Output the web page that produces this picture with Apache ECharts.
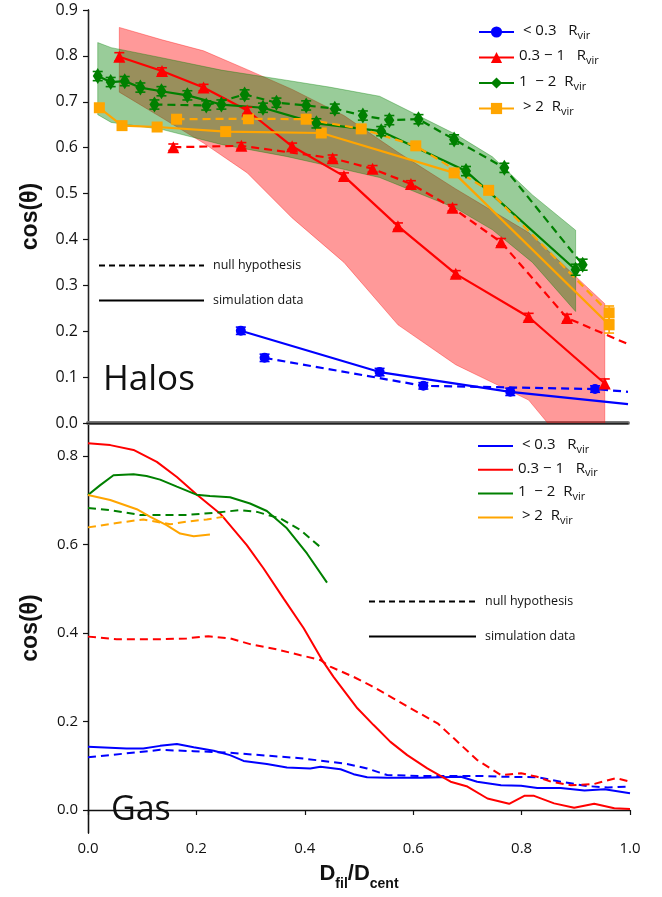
<!DOCTYPE html>
<html>
<head>
<meta charset="utf-8">
<script src="https://cdn.jsdelivr.net/npm/echarts@6/dist/echarts.min.js"></script>
<style>
  html, body { margin: 0; padding: 0; background: #fff; }
  #chart { width: 662px; height: 897px; }
</style>
</head>
<body>
<div id="chart"></div>
<script>
// ---------- Halos panel: mean cos(theta) with error bars ----------
const haloBlueX = [0.283, 0.54, 0.782];
const haloBlueY = [0.201, 0.111, 0.068];
const haloBlueErr = [0.008, 0.008, 0.008];
const haloBlueTail = [1.0, 0.041];
const haloBlueNullX = [0.327, 0.621, 0.939];
const haloBlueNullY = [0.142, 0.081, 0.074];
const haloBlueNullErr = [0.008, 0.007, 0.007];
const haloBlueNullTail = [1.0, 0.068];

const haloRedX = [0.058, 0.137, 0.214, 0.295, 0.378, 0.474, 0.574, 0.681, 0.816, 0.957];
const haloRedY = [0.798, 0.767, 0.731, 0.681, 0.603, 0.538, 0.429, 0.325, 0.231, 0.086];
const haloRedErr = [0.009, 0.007, 0.007, 0.007, 0.007, 0.007, 0.007, 0.007, 0.008, 0.01];
const haloRedNullX = [0.158, 0.284, 0.453, 0.527, 0.598, 0.675, 0.765, 0.887];
const haloRedNullY = [0.601, 0.604, 0.577, 0.554, 0.521, 0.469, 0.394, 0.229];
const haloRedNullErr = [0.007, 0.007, 0.007, 0.007, 0.007, 0.007, 0.008, 0.008];
const haloRedNullTail = [1.0, 0.172];

const haloGreenX = [0.018, 0.042, 0.068, 0.097, 0.136, 0.184, 0.247, 0.324, 0.423, 0.543, 0.70, 0.903];
const haloGreenY = [0.756, 0.743, 0.745, 0.731, 0.723, 0.714, 0.694, 0.687, 0.653, 0.636, 0.549, 0.334];
const haloGreenErr = [0.01, 0.01, 0.01, 0.01, 0.01, 0.01, 0.01, 0.01, 0.01, 0.01, 0.01, 0.012];
const haloGreenNullX = [0.123, 0.219, 0.29, 0.349, 0.404, 0.457, 0.509, 0.558, 0.612, 0.678, 0.771, 0.916];
const haloGreenNullY = [0.694, 0.692, 0.716, 0.698, 0.692, 0.685, 0.670, 0.660, 0.662, 0.618, 0.556, 0.345];
const haloGreenNullErr = [0.01, 0.01, 0.01, 0.01, 0.01, 0.01, 0.01, 0.01, 0.01, 0.01, 0.01, 0.012];

const haloOrangeX = [0.021, 0.063, 0.128, 0.255, 0.432, 0.678, 0.965];
const haloOrangeY = [0.687, 0.648, 0.645, 0.635, 0.632, 0.545, 0.214];
const haloOrangeErr = [0.008, 0.007, 0.007, 0.007, 0.007, 0.008, 0.018];
const haloOrangeNullX = [0.164, 0.297, 0.404, 0.506, 0.607, 0.742, 0.965];
const haloOrangeNullY = [0.662, 0.663, 0.662, 0.641, 0.604, 0.507, 0.24];
const haloOrangeNullErr = [0.007, 0.007, 0.007, 0.007, 0.007, 0.008, 0.015];

// scatter envelopes around the 0.3-1 and 1-2 Rvir profiles
const redBandX = [0.058, 0.137, 0.214, 0.295, 0.378, 0.474, 0.574, 0.681, 0.816, 0.957];
const redBandUpper = [0.862, 0.835, 0.811, 0.77, 0.727, 0.67, 0.59, 0.51, 0.415, 0.26];
const redBandLower = [0.721, 0.665, 0.61, 0.545, 0.447, 0.35, 0.214, 0.127, 0.05, -0.15];
const greenBandX = [0.018, 0.043, 0.136, 0.247, 0.367, 0.447, 0.54, 0.681, 0.749, 0.823, 0.903];
const greenBandUpper = [0.829, 0.818, 0.796, 0.769, 0.747, 0.732, 0.712, 0.629, 0.58, 0.497, 0.42];
const greenBandLower = [0.672, 0.655, 0.64, 0.607, 0.581, 0.56, 0.535, 0.468, 0.421, 0.35, 0.243];

// ---------- Gas panel: continuous profiles ----------
const gasBlueX = [0, 0.071, 0.102, 0.133, 0.164, 0.195, 0.232, 0.262, 0.287, 0.33, 0.367, 0.41, 0.429, 0.466, 0.49, 0.515, 0.552, 0.614, 0.651, 0.688, 0.718, 0.762, 0.799, 0.829, 0.872, 0.916, 0.953, 1.0];
const gasBlueY = [0.143, 0.139, 0.139, 0.145, 0.149, 0.142, 0.134, 0.124, 0.111, 0.104, 0.096, 0.094, 0.098, 0.092, 0.081, 0.074, 0.073, 0.073, 0.074, 0.075, 0.064, 0.056, 0.055, 0.05, 0.05, 0.044, 0.047, 0.038];
const gasBlueNullX = [0, 0.071, 0.133, 0.195, 0.256, 0.33, 0.392, 0.447, 0.478, 0.515, 0.552, 0.614, 0.675, 0.725, 0.774, 0.829, 0.872, 0.922, 0.959, 1.0];
const gasBlueNullY = [0.119, 0.128, 0.136, 0.133, 0.13, 0.123, 0.117, 0.109, 0.104, 0.094, 0.079, 0.077, 0.077, 0.077, 0.075, 0.074, 0.064, 0.054, 0.051, 0.053];

const gasRedX = [0, 0.041, 0.084, 0.127, 0.164, 0.2, 0.244, 0.293, 0.324, 0.361, 0.398, 0.432, 0.453, 0.497, 0.527, 0.558, 0.589, 0.626, 0.669, 0.7, 0.737, 0.777, 0.805, 0.823, 0.86, 0.897, 0.934, 0.971, 1.0];
const gasRedY = [0.829, 0.825, 0.814, 0.787, 0.753, 0.714, 0.67, 0.599, 0.546, 0.478, 0.411, 0.339, 0.301, 0.23, 0.192, 0.154, 0.124, 0.094, 0.064, 0.053, 0.026, 0.014, 0.032, 0.032, 0.015, 0.005, 0.014, 0.004, 0.002];
const gasRedNullX = [0, 0.053, 0.133, 0.182, 0.222, 0.262, 0.299, 0.349, 0.392, 0.429, 0.447, 0.49, 0.521, 0.564, 0.595, 0.645, 0.675, 0.718, 0.762, 0.799, 0.829, 0.854, 0.891, 0.934, 0.974, 1.0];
const gasRedNullY = [0.392, 0.386, 0.386, 0.388, 0.393, 0.388, 0.375, 0.363, 0.35, 0.339, 0.324, 0.301, 0.282, 0.252, 0.23, 0.196, 0.162, 0.113, 0.079, 0.083, 0.075, 0.064, 0.056, 0.059, 0.072, 0.064];

const gasGreenX = [0, 0.022, 0.047, 0.084, 0.108, 0.133, 0.164, 0.2, 0.225, 0.262, 0.299, 0.33, 0.367, 0.404, 0.441];
const gasGreenY = [0.712, 0.734, 0.757, 0.759, 0.755, 0.747, 0.731, 0.713, 0.71, 0.707, 0.693, 0.676, 0.637, 0.58, 0.514];
const gasGreenNullX = [0, 0.041, 0.096, 0.182, 0.232, 0.281, 0.312, 0.355, 0.392, 0.432];
const gasGreenNullY = [0.683, 0.678, 0.667, 0.667, 0.672, 0.678, 0.674, 0.659, 0.633, 0.591];

const gasOrangeX = [0, 0.041, 0.09, 0.115, 0.145, 0.17, 0.195, 0.225];
const gasOrangeY = [0.712, 0.701, 0.68, 0.663, 0.644, 0.625, 0.619, 0.623];
const gasOrangeNullX = [0, 0.053, 0.102, 0.152, 0.182, 0.219, 0.25];
const gasOrangeNullY = [0.639, 0.649, 0.657, 0.646, 0.652, 0.657, 0.663];

// ---------- axes ----------
const haloTicks = [0, 0.1, 0.2, 0.3, 0.4, 0.5, 0.6, 0.7, 0.8, 0.9];
const gasTicks = [0, 0.2, 0.4, 0.6, 0.8];
const xTicks = [0, 0.2, 0.4, 0.6, 0.8, 1.0];

const rangeLabels = {
  h0: '{m| < 0.3   R}{s|vir}', h1: '{m|0.3 \u2212 1   R}{s|vir}', h2: '{m|1  \u2212 2  R}{s|vir}', h3: '{m| > 2  R}{s|vir}',
  g0: '{m| < 0.3   R}{s|vir}', g1: '{m|0.3 \u2212 1   R}{s|vir}', g2: '{m|1  \u2212 2  R}{s|vir}', g3: '{m| > 2  R}{s|vir}'
};

const BLUE = '#0000ff', RED = '#ff0000', GREEN = '#008000', ORANGE = '#ffa500';
const FONT = 'Open Sans';

function pairs(xs, ys) { return xs.map((x, i) => [x, ys[i]]); }

function haloLine(name, xs, ys, color, symbol, size, dashed, tail) {
  const data = pairs(xs, ys);
  if (tail) data.push({ value: tail, symbol: 'none' });
  return {
    type: 'line', name, xAxisIndex: 0, yAxisIndex: 0, data,
    symbol, symbolSize: size, showAllSymbol: true,
    lineStyle: { color, width: 2.2, type: dashed ? [8, 5] : 'solid' },
    itemStyle: { color }, z: 4
  };
}

function errorBars(xs, ys, errs, color) {
  return {
    type: 'custom', xAxisIndex: 0, yAxisIndex: 0, z: 5,
    data: xs.map((x, i) => [x, ys[i], errs[i]]),
    encode: { x: 0, y: 1 },
    renderItem(params, api) {
      const x = api.value(0), y = api.value(1), e = api.value(2);
      const t = api.coord([x, y + e]);
      const b = api.coord([x, y - e]);
      const w = 5;
      const st = { stroke: color, lineWidth: 1.6 };
      return {
        type: 'group', children: [
          { type: 'line', shape: { x1: t[0], y1: t[1], x2: b[0], y2: b[1] }, style: st },
          { type: 'line', shape: { x1: t[0] - w, y1: t[1], x2: t[0] + w, y2: t[1] }, style: st },
          { type: 'line', shape: { x1: b[0] - w, y1: b[1], x2: b[0] + w, y2: b[1] }, style: st }
        ]
      };
    }
  };
}

function band(xs, up, lo, fill, stroke) {
  return {
    type: 'custom', xAxisIndex: 0, yAxisIndex: 0, z: 2,
    data: [[xs[0], up[0]]],
    encode: { x: 0, y: 1 },
    renderItem(params, api) {
      const pts = [];
      for (let i = 0; i < xs.length; i++) pts.push(api.coord([xs[i], up[i]]));
      for (let i = xs.length - 1; i >= 0; i--) pts.push(api.coord([xs[i], lo[i]]));
      const cs = params.coordSys;
      return {
        type: 'polygon', shape: { points: pts },
        style: { fill, stroke, lineWidth: 1 },
        clipPath: { type: 'rect', shape: { x: cs.x, y: cs.y, width: cs.width, height: cs.height } }
      };
    }
  };
}

function gasLine(name, xs, ys, color, dashed) {
  return {
    type: 'line', name, xAxisIndex: 2, yAxisIndex: 2, data: pairs(xs, ys),
    symbol: 'none', lineStyle: { color, width: 2, type: dashed ? [8, 5] : 'solid' },
    itemStyle: { color }, z: 4
  };
}

const keyLines = [
  { type: 'line', name: 'null hypothesis', xAxisIndex: 0, yAxisIndex: 0, data: [], symbol: 'none',
    lineStyle: { color: '#000', width: 1.8, type: [6, 4] }, itemStyle: { color: '#000' } },
  { type: 'line', name: 'simulation data', xAxisIndex: 0, yAxisIndex: 0, data: [], symbol: 'none',
    lineStyle: { color: '#000', width: 1.8 }, itemStyle: { color: '#000' } }
];

const legendText = {
  fontSize: 15, fontFamily: FONT, color: '#111',
  rich: {
    m: { fontSize: 15, fontFamily: FONT, color: '#111', verticalAlign: 'top', lineHeight: 18 },
    s: { fontSize: 11, fontFamily: FONT, color: '#111', verticalAlign: 'bottom', lineHeight: 18 }
  }
};
// plain-line key entries: hide the marker that line legends draw by default
const noMarker = { color: 'rgba(0,0,0,0)', borderColor: 'rgba(0,0,0,0)', borderWidth: 0 };
const keyText = { fontSize: 12.5, fontFamily: FONT, color: '#111', padding: [0, 0, 0, 4] };

const chart = echarts.init(document.getElementById('chart'), null, { renderer: 'canvas' });

chart.setOption({
  animation: false,
  backgroundColor: '#fff',
  textStyle: { fontFamily: FONT },
  grid: [
    { left: 88, top: 10, width: 540, height: 413 },
    { left: 88, top: 423, width: 542, height: 410 }
  ],
  xAxis: [
    { type: 'value', gridIndex: 0, min: 0, max: 1, position: 'bottom',
      axisLine: { show: true, lineStyle: { color: '#777', width: 4 } },
      axisTick: { show: false }, axisLabel: { show: false }, splitLine: { show: false } },
    { type: 'value', gridIndex: 0, min: 0, max: 1, position: 'top',
      axisLine: { show: true, lineStyle: { color: '#222', width: 1.3 } },
      axisTick: { show: false }, axisLabel: { show: false }, splitLine: { show: false } },
    { type: 'value', gridIndex: 1, min: 0, max: 1, interval: 0.2, position: 'bottom',
      axisLine: { show: true, lineStyle: { color: '#111', width: 1.3 } },
      axisTick: { show: true, inside: false, length: 5, lineStyle: { color: '#111', width: 1.2 } },
      axisLabel: { show: true, margin: 8, fontSize: 15, fontFamily: FONT, color: '#111',
        customValues: xTicks, formatter: v => v.toFixed(1) },
      splitLine: { show: false },
      name: '{b|D}{s|fil}{b|/D}{s|cent}', nameLocation: 'middle', nameGap: 30,
      nameTextStyle: { rich: {
        b: { fontSize: 22, fontWeight: 'bold', fontFamily: 'Liberation Sans', color: '#111', verticalAlign: 'top', lineHeight: 28 },
        s: { fontSize: 14, fontWeight: 'bold', fontFamily: 'Liberation Sans', color: '#111', verticalAlign: 'bottom', lineHeight: 28 }
      } } },
    { type: 'value', gridIndex: 1, min: 0, max: 1, position: 'top',
      axisLine: { show: false }, axisTick: { show: false }, axisLabel: { show: false }, splitLine: { show: false } }
  ],
  yAxis: [
    { type: 'value', gridIndex: 0, min: 0, max: 0.9, interval: 0.1, position: 'left',
      axisLine: { show: true, lineStyle: { color: '#111', width: 1.3 } },
      axisTick: { show: true, inside: false, length: 5, lineStyle: { color: '#111', width: 1.2 }, customValues: haloTicks },
      axisLabel: { show: true, margin: 10, fontSize: 16, fontFamily: FONT, color: '#111',
        customValues: haloTicks, formatter: v => v.toFixed(1) },
      splitLine: { show: false },
      name: 'cos(\u03b8)', nameLocation: 'middle', nameGap: 46,
      nameTextStyle: { fontSize: 23, fontWeight: 'bold', fontFamily: 'Liberation Sans', color: '#111' } },
    { type: 'value', gridIndex: 0, min: 0, max: 0.9, position: 'right',
      axisLine: { show: true, lineStyle: { color: '#222', width: 1.3 } },
      axisTick: { show: false }, axisLabel: { show: false }, splitLine: { show: false } },
    { type: 'value', gridIndex: 1, min: -0.052, max: 0.875, position: 'left',
      axisLine: { show: true, lineStyle: { color: '#111', width: 1.3 } },
      axisTick: { show: true, inside: false, length: 5, lineStyle: { color: '#111', width: 1.2 }, customValues: gasTicks },
      axisLabel: { show: true, margin: 10, fontSize: 15, fontFamily: FONT, color: '#111',
        customValues: gasTicks, formatter: v => v.toFixed(1) },
      splitLine: { show: false },
      name: 'cos(\u03b8)', nameLocation: 'middle', nameGap: 46,
      nameTextStyle: { fontSize: 23, fontWeight: 'bold', fontFamily: 'Liberation Sans', color: '#111' } },
    { type: 'value', gridIndex: 1, min: -0.052, max: 0.875, position: 'right',
      axisLine: { show: true, lineStyle: { color: '#111', width: 1.3 } },
      axisTick: { show: false }, axisLabel: { show: false }, splitLine: { show: false } }
  ],
  legend: [
    { data: ['h0', 'h1', 'h2', 'h3'], orient: 'vertical', left: 473, top: 18,
      itemWidth: 35, itemHeight: 14, itemGap: 7.5, selectedMode: false,
      formatter: n => rangeLabels[n], textStyle: legendText },
    { data: ['null hypothesis', 'simulation data'], orient: 'vertical', left: 93, top: 254,
      itemWidth: 105, itemHeight: 14, itemGap: 22, selectedMode: false,
      itemStyle: noMarker, textStyle: keyText },
    { data: ['g0', 'g1', 'g2', 'g3'], orient: 'vertical', left: 472, top: 432,
      itemWidth: 35, itemHeight: 14, itemGap: 5.8, selectedMode: false,
      itemStyle: noMarker, formatter: n => rangeLabels[n], textStyle: legendText },
    { data: ['null hypothesis', 'simulation data'], orient: 'vertical', left: 363, top: 590,
      itemWidth: 107, itemHeight: 14, itemGap: 22, selectedMode: false,
      itemStyle: noMarker, textStyle: keyText }
  ],
  graphic: [
    { type: 'text', left: 103, top: 363, z: 100,
      style: { text: 'Halos', fontSize: 35, fontFamily: FONT, fill: '#111' } },
    { type: 'text', left: 111, top: 793, z: 100,
      style: { text: 'Gas', fontSize: 34, fontFamily: FONT, fill: '#111' } }
  ],
  series: [
    band(redBandX, redBandUpper, redBandLower, 'rgba(255,0,0,0.4)', 'rgba(255,0,0,0.35)'),
    band(greenBandX, greenBandUpper, greenBandLower, 'rgba(0,128,0,0.4)', 'rgba(0,128,0,0.35)'),

    haloLine('h0', haloBlueX, haloBlueY, BLUE, 'circle', 10, false, haloBlueTail),
    haloLine('h0n', haloBlueNullX, haloBlueNullY, BLUE, 'circle', 10, true, haloBlueNullTail),
    haloLine('h1', haloRedX, haloRedY, RED, 'triangle', 12, false),
    haloLine('h1n', haloRedNullX, haloRedNullY, RED, 'triangle', 12, true, haloRedNullTail),
    haloLine('h2', haloGreenX, haloGreenY, GREEN, 'diamond', [10, 16], false),
    haloLine('h2n', haloGreenNullX, haloGreenNullY, GREEN, 'diamond', [10, 16], true),
    haloLine('h3', haloOrangeX, haloOrangeY, ORANGE, 'rect', 11, false),
    haloLine('h3n', haloOrangeNullX, haloOrangeNullY, ORANGE, 'rect', 11, true),

    errorBars(haloBlueX, haloBlueY, haloBlueErr, BLUE),
    errorBars(haloBlueNullX, haloBlueNullY, haloBlueNullErr, BLUE),
    errorBars(haloRedX, haloRedY, haloRedErr, RED),
    errorBars(haloRedNullX, haloRedNullY, haloRedNullErr, RED),
    errorBars(haloGreenX, haloGreenY, haloGreenErr, GREEN),
    errorBars(haloGreenNullX, haloGreenNullY, haloGreenNullErr, GREEN),
    errorBars(haloOrangeX, haloOrangeY, haloOrangeErr, ORANGE),
    errorBars(haloOrangeNullX, haloOrangeNullY, haloOrangeNullErr, ORANGE),

    gasLine('g0', gasBlueX, gasBlueY, BLUE, false),
    gasLine('g0n', gasBlueNullX, gasBlueNullY, BLUE, true),
    gasLine('g1', gasRedX, gasRedY, RED, false),
    gasLine('g1n', gasRedNullX, gasRedNullY, RED, true),
    gasLine('g2', gasGreenX, gasGreenY, GREEN, false),
    gasLine('g2n', gasGreenNullX, gasGreenNullY, GREEN, true),
    gasLine('g3', gasOrangeX, gasOrangeY, ORANGE, false),
    gasLine('g3n', gasOrangeNullX, gasOrangeNullY, ORANGE, true),

    ...keyLines
  ]
});
</script>
</body>
</html>
